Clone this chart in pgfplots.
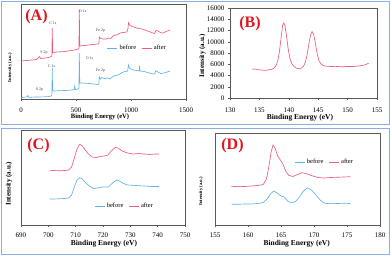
\documentclass[border=0pt]{standalone}
\usepackage{fontspec}
\setmainfont{Liberation Serif}
\usepackage{pgfplots}
\pgfplotsset{compat=1.18}
\definecolor{cafter}{RGB}{240,90,125}
\definecolor{cbefore}{RGB}{95,180,230}
\definecolor{cframe}{RGB}{140,175,225}
\definecolor{clabel}{RGB}{225,20,30}
\pgfplotsset{
  xps/.style={scale only axis,
    axis line style={black!65, line width=0.4pt},
    tick style={black!65, line width=0.4pt},
    major tick length=2pt, tick align=outside,
    xtick pos=bottom, ytick pos=left,
    scaled ticks=false,
    /pgf/number format/assume math mode=true,
    /pgf/number format/1000 sep={},
    tick label style={font=\fontsize{7}{8}\selectfont},
    label style={font=\bfseries\fontsize{7.5}{8}\selectfont},
    legend style={draw=none, fill=none, font=\fontsize{6.5}{7}\selectfont, inner sep=0pt,
      /tikz/every even column/.append style={column sep=3pt}},
    legend columns=2, legend cell align=left,
    legend image code/.code={\draw[##1] (0pt,0pt) -- (10pt,0pt);},
    every axis plot/.append style={line width=0.65pt},
  },
}
\tikzset{anno/.style={font=\fontsize{4}{4}\selectfont, text=black!75, inner sep=0pt}}
\begin{document}
\begin{tikzpicture}
\useasboundingbox (0pt,0pt) rectangle (390pt,257pt);
\draw[cframe, line width=0.8pt] (1.5pt,256pt) rectangle (389pt,133pt);
\draw[cframe, line width=0.8pt] (1.5pt,129pt) rectangle (389pt,3pt);

% ---------------- (A)
\begin{axis}[xps, at={(21pt,158pt)}, anchor=south west, width=165pt, height=95pt,
  xmin=0, xmax=1500, ymin=0, ymax=95, xtick={0,500,1000,1500}, ytick=\empty,
  xticklabel style={yshift=-3pt},
  xlabel={Binding Energy (eV)}, ylabel={Intensity (a.u.)},
  xlabel style={at={(rel axis cs:0.479,-0.19)}, anchor=center, font=\bfseries\fontsize{6.6}{7}\selectfont},
  ylabel style={at={(rel axis cs:-0.067,0.33)}, anchor=center, rotate=0, font=\bfseries\fontsize{4.6}{5}\selectfont},
  legend style={at={(rel axis cs:0.52,0.537)}, anchor=west, font=\fontsize{6.5}{7}\selectfont}]
\addplot[cbefore] coordinates {(0,1.3)(30,1.8)(55,2.2)(62,3.5)(70,1.6)(110,1.9)(150,2.0)(200,2.1)(245,2.4)(275,3)(281,4)(284,31.3)(287,9)(295,8)(350,8.3)(420,8.6)(460,9)(482,9.5)(488,13)(494,9.5)(520,10)(527,11)(530,46)(534,16)(550,16)(620,15.5)(700,14.5)(708,15)(712,22)(722,20)(735,21.5)(760,20.5)(790,21)(810,20)(840,23)(860,23.5)(880,24)(905,25.5)(930,27)(955,27.5)(970,28)(976,34)(985,31)(1000,30)(1020,29)(1050,28.5)(1075,28)(1078,33)(1082,28)(1120,27.5)(1150,26.5)(1200,25)(1215,25)(1226,28.3)(1245,27)(1270,25.5)(1300,26)(1330,27)(1355,28)};
\addlegendentry{before}
\addplot[cafter] coordinates {(0,38)(50,38.5)(100,39)(140,39.5)(160,41.5)(168,42.5)(180,40.5)(220,41)(250,41.5)(275,42.5)(281,43.5)(284,71)(288,46)(320,47)(400,47.5)(450,48.5)(490,49)(520,50)(527,51)(530,89)(534,53)(580,53.5)(650,54.5)(700,55)(708,55.5)(712,62)(725,60.5)(745,60)(780,60)(800,61)(815,60.5)(837,63)(855,64)(870,64)(900,66)(930,66.5)(963,67)(972,70)(977,76.3)(988,74)(1010,72.5)(1050,71)(1100,70)(1150,68)(1200,66)(1215,65.5)(1228,68.5)(1245,68)(1270,66.3)(1290,66)(1320,67.5)(1355,69)};
\addlegendentry{after}
\node[anno] at (axis cs:290,75.5) {C 1s};
\node[anno] at (axis cs:560,87.5) {O 1s};
\node[anno] at (axis cs:723,68) {Fe 2p};
\node[anno] at (axis cs:209,46.3) {S 2p};
\node[anno] at (axis cs:277,33.3) {C 1s};
\node[anno] at (axis cs:623,40.7) {O 1s};
\node[anno] at (axis cs:723,28) {Fe 2p};
\node[anno] at (axis cs:168,9.7) {S 2p};
\end{axis}
\node[text=clabel, font=\bfseries\fontsize{16}{16}\selectfont, inner sep=0pt] at (36.5pt,240.5pt) {(A)};

% ---------------- (B)
\begin{axis}[xps, at={(230pt,159pt)}, anchor=south west, width=147pt, height=90pt,
  xmin=130, xmax=155, ymin=0, ymax=16000, xtick={130,135,...,155}, ytick={0,2000,...,16000},
  xticklabel style={yshift=-4pt},
  xlabel={Binding Energy (eV)}, ylabel={Intensity (a.u.)},
  xlabel style={at={(rel axis cs:0.476,-0.215)}, anchor=center},
  ylabel style={at={(rel axis cs:-0.188,0.469)}, anchor=center, rotate=0, font=\bfseries\fontsize{7}{7}\selectfont}]
\addplot[cafter] coordinates {(133.8,5100)(134.2,5150)(134.6,5080)(135,5000)(135.5,4950)(136,4900)(136.5,5000)(137,5100)(137.4,5250)(137.8,5700)(138.1,6500)(138.4,8200)(138.7,10800)(138.95,12900)(139.15,13350)(139.35,12900)(139.6,11100)(139.9,8700)(140.2,7000)(140.5,6100)(140.9,5600)(141.3,5300)(141.7,5200)(142.1,5300)(142.5,5650)(142.8,6300)(143.1,7600)(143.4,9500)(143.7,11200)(143.95,11800)(144.2,11400)(144.5,9900)(144.8,8000)(145.1,6700)(145.5,6000)(146,5700)(146.5,5650)(147,5600)(148,5620)(149,5550)(150,5600)(151,5600)(152,5700)(153,5900)(153.6,6200)};
\end{axis}
\node[text=clabel, font=\bfseries\fontsize{16}{16}\selectfont, inner sep=0pt] at (250pt,233pt) {(B)};

% ---------------- (C)
\begin{axis}[xps, at={(21pt,32pt)}, anchor=south west, width=164pt, height=95pt,
  xmin=690, xmax=750, ymin=0, ymax=95, xtick={690,700,...,750}, ytick=\empty,
  xticklabel style={yshift=-2pt},
  xlabel={Binding Energy (eV)}, ylabel={Intensity (a.u.)},
  xlabel style={at={(rel axis cs:0.506,-0.197)}, anchor=center},
  ylabel style={at={(rel axis cs:-0.073,0.434)}, anchor=center, rotate=0, font=\bfseries\fontsize{7}{7}\selectfont},
  legend style={at={(rel axis cs:0.445,0.2)}, anchor=west}]
\addplot[cbefore] coordinates {(700.5,26)(702,26)(704,26.3)(706,26.5)(707.5,27)(708.5,30)(709.5,38)(710.5,45)(711.5,47.3)(712.5,46)(713.5,42.5)(715,39)(716.5,36.5)(718,37)(720,38)(722,38)(723.5,42)(725,45)(726,44)(727.5,41.5)(729,40)(732,39.5)(735,39)(738,38.5)(740.5,38.5)};
\addlegendentry{before}
\addplot[cafter] coordinates {(700.5,54.3)(702,54.5)(704,54.2)(706,54.5)(707.5,55)(708.5,58)(709.5,67)(710.5,76)(711.5,80.7)(712.5,79)(713.5,75)(714.5,71.5)(716,68)(717.5,67.5)(719,68.5)(720.5,69)(721.8,70)(723,74)(724.5,77.5)(725.5,77)(727,74)(729,72)(731,71)(733,71.5)(735,71)(737,70.5)(739,71)(740.5,71)};
\addlegendentry{after}
\end{axis}
\node[text=clabel, font=\bfseries\fontsize{16}{16}\selectfont, inner sep=0pt] at (38.5pt,111.5pt) {(C)};

% ---------------- (D)
\begin{axis}[xps, at={(215pt,32pt)}, anchor=south west, width=165pt, height=92pt,
  xmin=155, xmax=180, ymin=0, ymax=92, xtick={155,160,...,180}, ytick=\empty,
  xticklabel style={yshift=-2pt},
  xlabel={Binding Energy (eV)}, ylabel={Intensity (a.u.)},
  xlabel style={at={(rel axis cs:0.495,-0.207)}, anchor=center},
  ylabel style={at={(rel axis cs:-0.085,0.366)}, anchor=center, rotate=0, font=\bfseries\fontsize{4.6}{5}\selectfont},
  legend style={at={(rel axis cs:0.479,0.685)}, anchor=west}]
\addplot[cbefore] coordinates {(157.5,20.7)(158.5,20.7)(159.5,21)(160.5,21)(161.5,21.5)(162.3,22.5)(162.9,26)(163.4,31)(163.9,34)(164.4,32)(165,29)(165.5,28)(166,24)(166.5,22)(167.2,23.5)(167.8,28)(168.4,34)(169,37.3)(169.6,35)(170.3,30)(171,24.5)(171.6,21.7)(172.5,21.3)(173.5,21.5)(174.5,21.7)(175.5,21.5)};
\addlegendentry{before}
\addplot[cafter] coordinates {(157.5,38.3)(158.5,38.7)(159.5,38.5)(160.5,39)(161.5,39.5)(162.3,40.5)(162.8,46)(163.2,60)(163.5,73)(163.8,80)(164.1,77)(164.5,69)(164.9,65)(165.3,61)(165.7,54)(166.2,49.5)(166.8,48.5)(167.5,50.5)(168.2,52.3)(169,51)(169.8,49)(170.6,47.5)(171.5,47)(172.5,47.5)(173.5,47.7)(174.5,48)(175.5,48.3)};
\addlegendentry{after}
\end{axis}
\node[text=clabel, font=\bfseries\fontsize{16}{16}\selectfont, inner sep=0pt] at (232.5pt,111pt) {(D)};
\end{tikzpicture}
\end{document}
